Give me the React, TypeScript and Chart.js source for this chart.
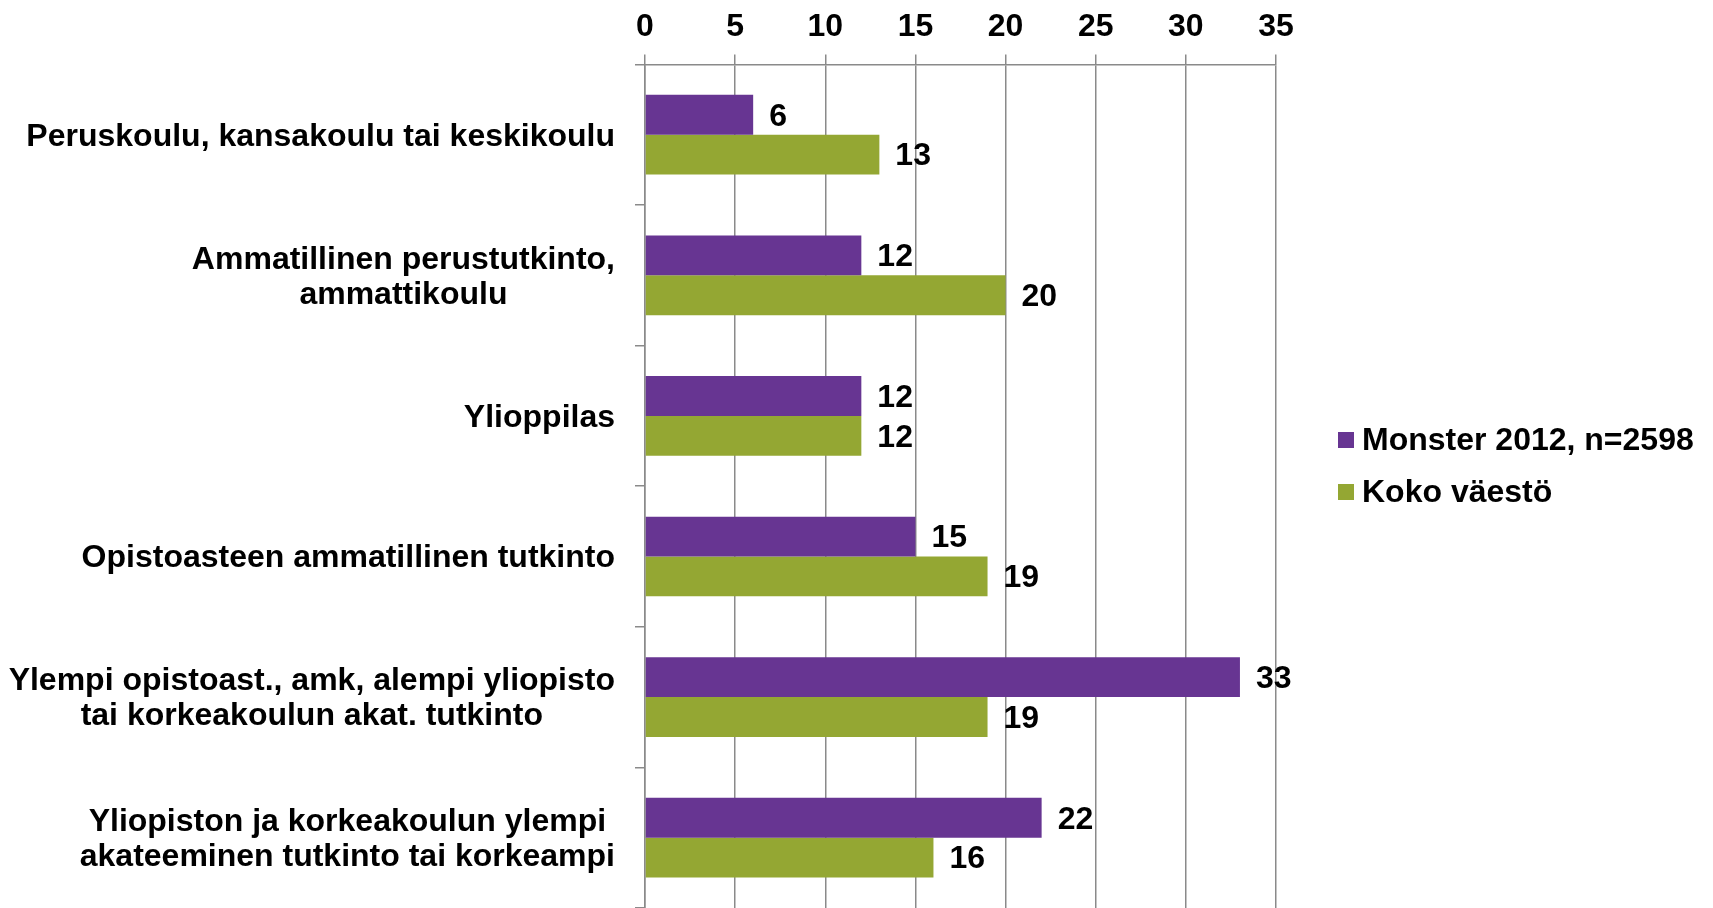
import React, { useEffect, useRef } from 'react';
import { Chart, registerables } from 'chart.js';

Chart.register(...registerables);

const categories: string[][] = [
  ['Peruskoulu, kansakoulu tai keskikoulu'],
  ['Ammatillinen perustutkinto,', 'ammattikoulu'],
  ['Ylioppilas'],
  ['Opistoasteen ammatillinen tutkinto'],
  ['Ylempi opistoast., amk, alempi yliopisto', 'tai korkeakoulun akat. tutkinto'],
  ['Yliopiston ja korkeakoulun ylempi', 'akateeminen tutkinto tai korkeampi'],
];
const seriesNames = ['Monster 2012, n=2598', 'Koko väestö'];
const monsterValues = [6, 12, 12, 15, 33, 22];
const kokoValues = [13, 20, 12, 19, 19, 16];
const xMin = 0;
const xMax = 35;
const xStep = 5;
const seriesColors = ['#673592', '#94A733'];

const FONT_FAMILY = '"Liberation Sans", Arial, sans-serif';
const FONT = `bold 32px ${FONT_FAMILY}`;
const GRID = '#8a8a8a';

const valueLabelsPlugin = {
  id: 'valueLabels',
  afterDatasetsDraw(chart: any) {
    const ctx = chart.ctx;
    ctx.save();
    ctx.font = FONT;
    ctx.fillStyle = '#000';
    ctx.textAlign = 'left';
    ctx.textBaseline = 'middle';
    chart.data.datasets.forEach((ds: any, di: number) => {
      const meta = chart.getDatasetMeta(di);
      meta.data.forEach((el: any, i: number) => {
        ctx.fillText(String(ds.data[i]), el.x + 16, el.y + 2);
      });
    });
    ctx.restore();
  },
};

const categoryLabelsPlugin = {
  id: 'categoryLabels',
  afterDraw(chart: any) {
    const ctx = chart.ctx;
    const y = chart.scales.y;
    const right = chart.chartArea.left - 30;
    ctx.save();
    ctx.font = FONT;
    ctx.fillStyle = '#000';
    ctx.textAlign = 'center';
    ctx.textBaseline = 'middle';
    categories.forEach((lines, i) => {
      const py = y.getPixelForValue(i);
      const maxW = Math.max(...lines.map((l) => ctx.measureText(l).width));
      const cx = right - maxW / 2;
      lines.forEach((l, j) => {
        ctx.fillText(l, cx, py + 2 + (j - (lines.length - 1) / 2) * 35);
      });
    });
    ctx.restore();
  },
};

const legendPlugin = {
  id: 'customLegend',
  afterDraw(chart: any) {
    const ctx = chart.ctx;
    const x0 = chart.chartArea.right + 62;
    const yc = chart.height / 2 + 12;
    const gap = 52;
    ctx.save();
    ctx.font = FONT;
    ctx.textAlign = 'left';
    ctx.textBaseline = 'middle';
    chart.data.datasets.forEach((ds: any, i: number) => {
      const cy = yc + (i - (chart.data.datasets.length - 1) / 2) * gap;
      ctx.fillStyle = ds.backgroundColor;
      ctx.fillRect(x0, cy - 8, 16, 16);
      ctx.fillStyle = '#000';
      ctx.fillText(ds.label, x0 + 24, cy + 1);
    });
    ctx.restore();
  },
};

export default function App() {
  const ref = useRef<HTMLCanvasElement>(null);
  useEffect(() => {
    if (!ref.current) return;
    const chart = new Chart(ref.current, {
      type: 'bar',
      data: {
        labels: categories.map((c) => c.join(' ')),
        datasets: [
          { label: seriesNames[0], data: monsterValues, backgroundColor: seriesColors[0] },
          { label: seriesNames[1], data: kokoValues, backgroundColor: seriesColors[1] },
        ],
      },
      options: {
        indexAxis: 'y',
        animation: false,
        responsive: false,
        devicePixelRatio: 1,
        layout: { padding: { left: 635, right: 437, top: 0, bottom: -4 } },
        datasets: { bar: { categoryPercentage: 0.567, barPercentage: 1 } } as any,
        plugins: { legend: { display: false }, tooltip: { enabled: false } },
        scales: {
          x: {
            position: 'top',
            min: xMin,
            max: xMax,
            ticks: {
              stepSize: xStep,
              color: '#000',
              font: { family: FONT_FAMILY, size: 32, weight: 'bold' },
              padding: 8,
            },
            grid: { color: GRID, lineWidth: 1.5, tickLength: 10, drawTicks: true },
            border: { display: true, color: GRID, width: 1.5 },
          },
          y: {
            ticks: { display: false },
            grid: {
              display: true,
              drawOnChartArea: false,
              drawTicks: true,
              tickLength: 10,
              offset: true,
              color: GRID,
              lineWidth: 1.5,
            },
            border: { display: true, color: GRID, width: 1.5 },
          },
        },
      },
      plugins: [valueLabelsPlugin, categoryLabelsPlugin, legendPlugin],
    });
    return () => chart.destroy();
  }, []);
  return (
    <div style={{ position: 'fixed', left: 0, top: 0, width: 1713, height: 908, background: '#fff' }}>
      <canvas ref={ref} width={1713} height={908} style={{ display: 'block' }} />
    </div>
  );
}
